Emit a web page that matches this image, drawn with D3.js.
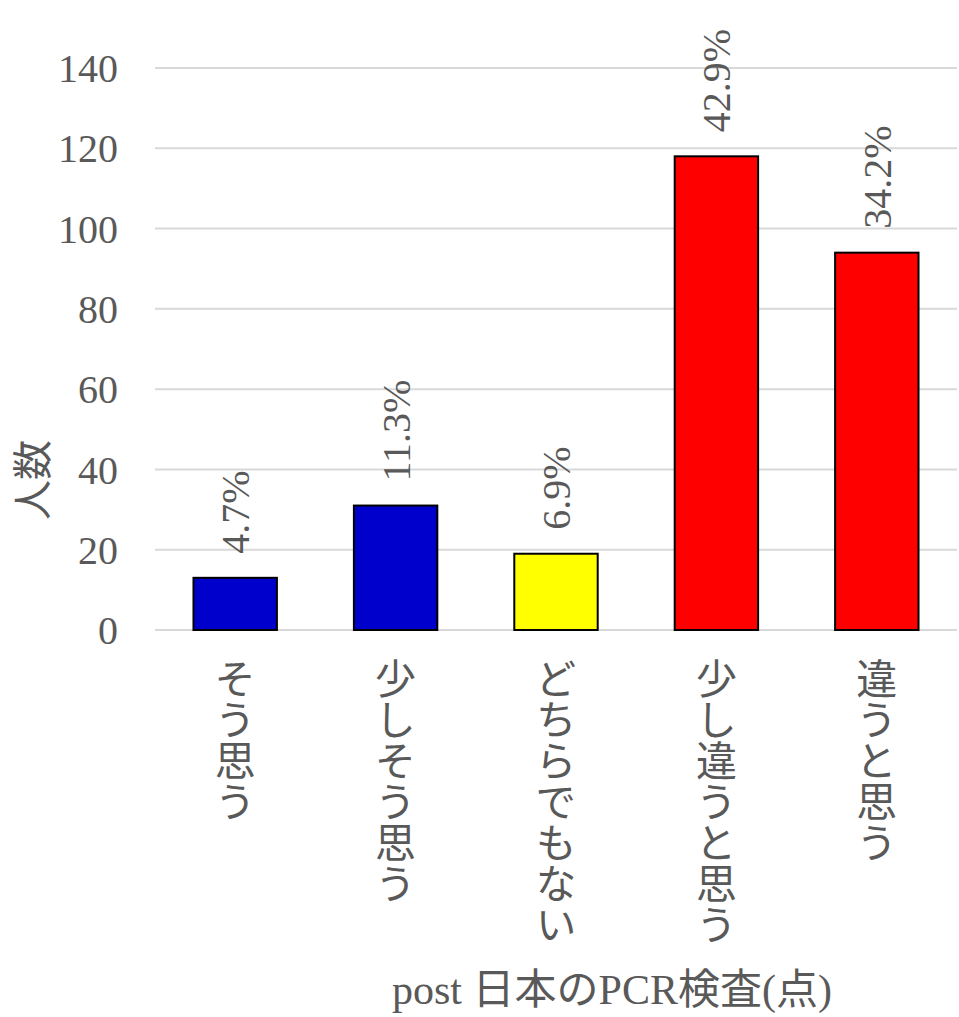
<!DOCTYPE html>
<html><head><meta charset="utf-8">
<script src="https://cdn.jsdelivr.net/npm/d3@7"></script>
<style>
html,body{margin:0;padding:0;background:#fff;}
</style></head>
<body>
<svg id="chart" width="959" height="1017"></svg>
<script>
const categories = ["そう思う","少しそう思う","どちらでもない","少し違うと思う","違うと思う"];
const counts = [13, 31, 19, 118, 94];
const percentLabels = ["4.7%","11.3%","6.9%","42.9%","34.2%"];
const barColors = ["#0000CC","#0000CC","#FFFF00","#FF0000","#FF0000"];
const yTicks = [0,20,40,60,80,100,120,140];

const svg = d3.select("#chart");
const serif = "'Liberation Serif','Times New Roman',serif";
const sans = "'Noto Sans CJK JP','Noto Sans',sans-serif";
const textColor = "#595959";

const x = d3.scaleBand().domain(categories).range([155, 957]).padding(0.48).paddingOuter(0.24);
const y = d3.scaleLinear().domain([0, 140]).range([630, 68]);

// gridlines
svg.append("g").selectAll("line").data(yTicks).join("line")
  .attr("x1", 155).attr("x2", 957)
  .attr("y1", d => y(d)).attr("y2", d => y(d))
  .attr("stroke", "#d9d9d9").attr("stroke-width", 2);

// y axis tick labels
const yAxis = d3.axisLeft(y).tickValues(yTicks).tickSize(0).tickPadding(0);
const yg = svg.append("g").attr("transform", "translate(118,0)").call(yAxis);
yg.select(".domain").remove();
yg.selectAll("text").style("font-family", serif).style("font-size", "40px")
  .attr("fill", textColor).attr("dy", "0.34em");

// bars
svg.append("g").selectAll("rect").data(counts).join("rect")
  .attr("x", (d,i) => x(categories[i]))
  .attr("width", x.bandwidth())
  .attr("y", d => y(d))
  .attr("height", d => y(0) - y(d))
  .attr("fill", (d,i) => barColors[i])
  .attr("stroke", "#000").attr("stroke-width", 2);

// percent labels
svg.append("g").selectAll("text").data(counts).join("text")
  .attr("transform", (d,i) => `translate(${x(categories[i]) + x.bandwidth()/2 + 14},${y(d) - 24}) rotate(-90)`)
  .style("font-family", serif).style("font-size", "40px").attr("fill", textColor)
  .text((d,i) => percentLabels[i]);

// category labels (vertical)
svg.append("g").selectAll("text").data(categories).join("text")
  .attr("x", d => x(d) + x.bandwidth()/2)
  .attr("y", 658)
  .attr("style", "writing-mode: vertical-rl; text-orientation: upright;")
  .style("font-family", sans).style("font-size", "41px").attr("fill", textColor)
  .text(d => d);

// y title
svg.append("text")
  .attr("transform", "translate(47,480) rotate(-90)")
  .attr("text-anchor", "middle")
  .style("font-family", sans).style("font-size", "40px").attr("fill", textColor)
  .text("人数");

// x title
const xt = svg.append("text")
  .attr("x", 612).attr("y", 1004)
  .attr("text-anchor", "middle")
  .style("font-size", "42px").attr("fill", textColor);
xt.append("tspan").style("font-family", serif).text("post ");
xt.append("tspan").style("font-family", sans).text("日本の");
xt.append("tspan").style("font-family", serif).text("PCR");
xt.append("tspan").style("font-family", sans).text("検査");
xt.append("tspan").style("font-family", serif).text("(");
xt.append("tspan").style("font-family", sans).text("点");
xt.append("tspan").style("font-family", serif).text(")");
</script>
</body></html>
